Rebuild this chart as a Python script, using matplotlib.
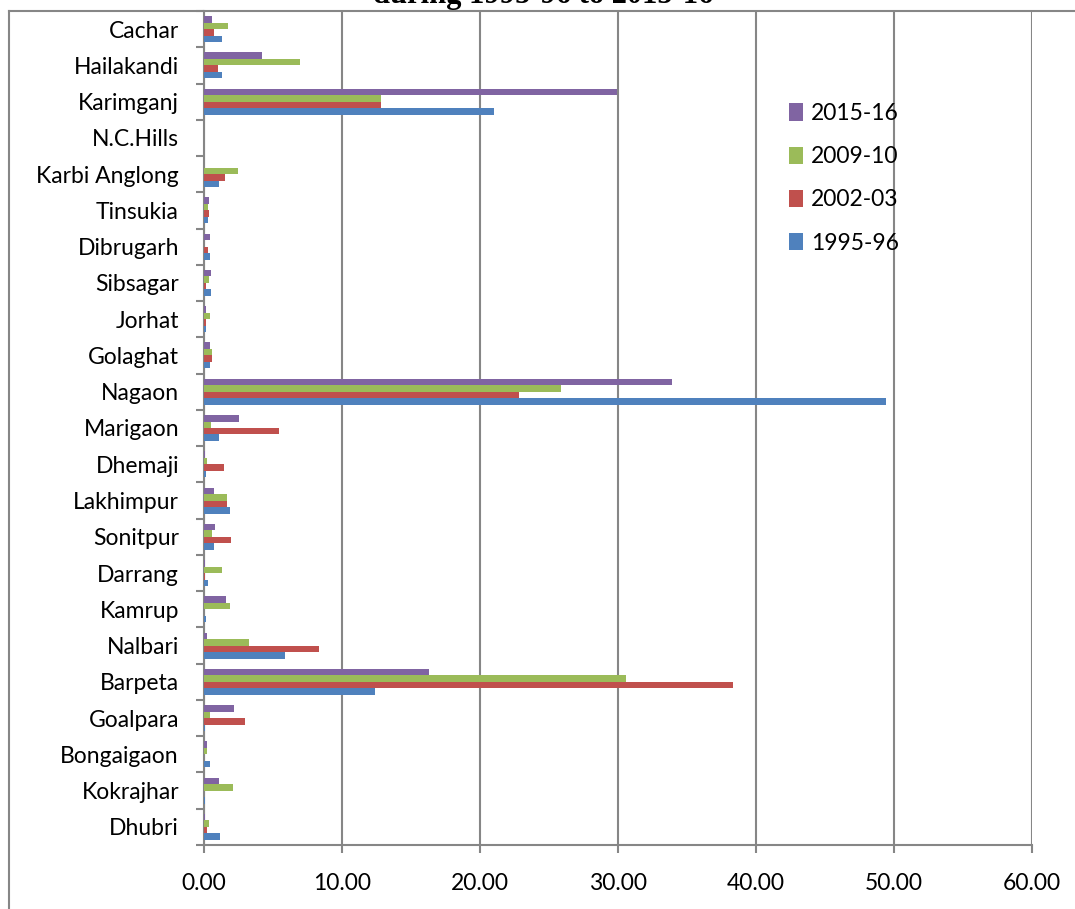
import matplotlib
matplotlib.use("Agg")
import matplotlib.pyplot as plt
from matplotlib.lines import Line2D
from matplotlib.patches import Patch
import numpy as np

districts = ["Dhubri", "Kokrajhar", "Bongaigaon", "Goalpara", "Barpeta", "Nalbari",
             "Kamrup", "Darrang", "Sonitpur", "Lakhimpur", "Dhemaji", "Marigaon",
             "Nagaon", "Golaghat", "Jorhat", "Sibsagar", "Dibrugarh", "Tinsukia",
             "Karbi Anglong", "N.C.Hills", "Karimganj", "Hailakandi", "Cachar"]

v1995_96 = [1.14, 0.08, 0.40, 0.08, 12.41, 5.89, 0.16, 0.27, 0.72, 1.90, 0.12, 1.12,
            49.40, 0.42, 0.12, 0.54, 0.40, 0.30, 1.07, 0.0, 21.00, 1.29, 1.29]
v2002_03 = [0.22, 0.0, 0.0, 2.96, 38.35, 8.30, 0.0, 0.05, 1.95, 1.66, 1.46, 5.47,
            22.80, 0.57, 0.16, 0.16, 0.30, 0.39, 1.49, 0.0, 12.85, 1.00, 0.76]
v2009_10 = [0.37, 2.09, 0.22, 0.40, 30.55, 3.28, 1.87, 1.32, 0.57, 1.68, 0.20, 0.50,
            25.85, 0.59, 0.40, 0.35, 0.0, 0.32, 2.48, 0.0, 12.80, 6.97, 1.75]
v2015_16 = [0.08, 1.12, 0.25, 2.21, 16.30, 0.20, 1.58, 0.10, 0.81, 0.72, 0.10, 2.55,
            33.90, 0.47, 0.12, 0.50, 0.40, 0.33, 0.0, 0.0, 29.90, 4.19, 0.57]

series_labels = ["1995-96", "2002-03", "2009-10", "2015-16"]
series_colors = ["#4F81BD", "#C0504D", "#9BBB59", "#8064A2"]
x_ticks = [0, 10, 20, 30, 40, 50, 60]
title_text = "during 1995-96 to 2015-16"

FONT = "Lato"
FS = 16.5
GRAY = "#868686"

W, H = 1075, 909
fig = plt.figure(figsize=(W / 100, H / 100), dpi=100)
ax = fig.add_axes([204 / W, 1 - 845 / H, (1032 - 204) / W, (845 - 11) / H])

y = np.arange(len(districts))
h = 0.179
all_series = [v1995_96, v2002_03, v2009_10, v2015_16]
for k, (vals, col) in enumerate(zip(all_series, series_colors)):
    ax.barh(y + (k - 1.5) * h, vals, height=h, color=col, edgecolor="none", zorder=3)

ax.set_xlim(0, 60)
ax.set_ylim(-0.5, len(districts) - 0.5)

ax.set_xticks(x_ticks)
ax.set_xticklabels([f"{v:.2f}" for v in x_ticks], fontsize=FS, family=FONT)
ax.grid(axis="x", color=GRAY, linewidth=1.5, zorder=0)
ax.tick_params(axis="x", direction="out", length=6, width=1.5, color=GRAY, pad=14)

ax.set_yticks(np.arange(len(districts) + 1) - 0.5)
ax.set_yticklabels([])
ax.set_yticks(y, minor=True)
ax.set_yticklabels(districts, minor=True, fontsize=FS, family=FONT)
ax.tick_params(axis="y", which="major", direction="out", length=6, width=1.5, color=GRAY)
ax.tick_params(axis="y", which="minor", length=0, pad=18)

for s in ["top", "right"]:
    ax.spines[s].set_visible(False)
for s in ["left", "bottom"]:
    ax.spines[s].set_color(GRAY)
    ax.spines[s].set_linewidth(1.5)

# chart frame lines
fig.add_artist(Line2D([8.5 / W, 8.5 / W], [0, 1 - 11 / H], color=GRAY, linewidth=1.5,
                      transform=fig.transFigure))
fig.add_artist(Line2D([8.5 / W, 1], [1 - 11 / H, 1 - 11 / H], color=GRAY, linewidth=1.5,
                      transform=fig.transFigure))

handles = [Patch(facecolor=c, edgecolor="none") for c in series_colors[::-1]]
leg = fig.legend(handles, series_labels[::-1], loc="upper left",
                 bbox_to_anchor=(789 / W, 1 - 103 / H), frameon=False,
                 prop={"family": FONT, "size": FS}, handlelength=0.6, handleheight=0.8,
                 handletextpad=0.35, labelspacing=0.97, borderpad=0, borderaxespad=0)

fig.text(543 / W, 1 - 3 / H, title_text, ha="center", va="baseline",
         fontsize=22, fontweight="bold", family="Liberation Serif")

fig.savefig("out.png", dpi=100)
